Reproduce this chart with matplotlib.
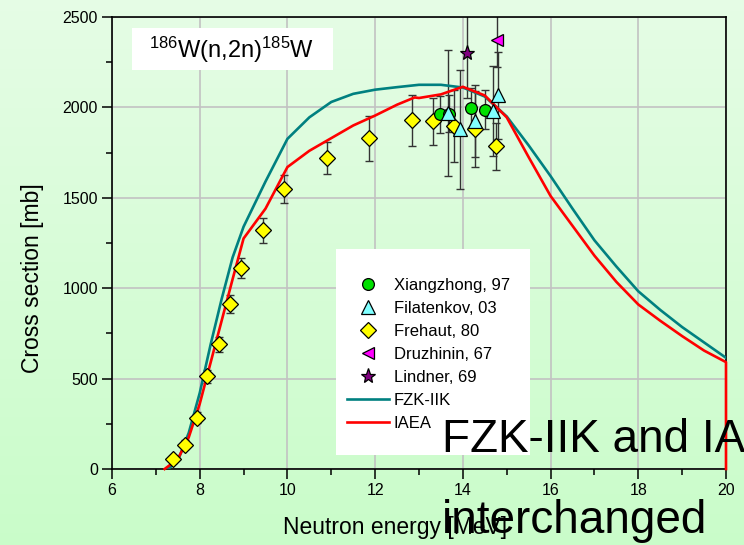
#!/usr/bin/env python3
"""186W(n,2n)185W cross section: experimental points vs FZK-IIK / IAEA evaluations."""

import matplotlib

matplotlib.use("Agg")
import matplotlib.pyplot as plt
import numpy as np
from matplotlib.lines import Line2D
from matplotlib.patches import Rectangle
from matplotlib.ticker import MultipleLocator

# ─── evaluations ─────────────────────────────────────────────────────────────

fzk_energy = [7.28, 7.5, 7.75, 8.0, 8.25, 8.5, 8.75, 9.0, 9.5, 10.0, 10.5, 11.0,
              11.5, 12.0, 12.5, 13.0, 13.5, 14.0, 14.5, 15.0, 15.5, 16.0, 16.5,
              17.0, 17.5, 18.0, 18.5, 19.0, 19.5, 20.0]
fzk_xs = [0, 45, 200, 420, 690, 940, 1170, 1340, 1590, 1826, 1945, 2030,
          2075, 2098, 2112, 2125, 2125, 2110, 2060, 1950, 1790, 1620, 1440,
          1265, 1120, 983, 880, 785, 700, 615]

iaea_energy = [7.2, 7.5, 7.75, 8.0, 8.25, 8.5, 8.75, 9.0, 9.5, 10.0, 10.5, 11.0,
               11.5, 12.0, 12.5, 12.9, 13.0, 13.5, 14.0, 14.5, 15.0, 15.5, 16.0,
               16.5, 17.0, 17.5, 18.0, 18.5, 19.0, 19.5, 20.0, 20.0]
iaea_xs = [0, 55, 175, 360, 590, 820, 1050, 1275, 1440, 1670, 1760, 1830,
           1900, 1955, 2015, 2055, 2052, 2072, 2114, 2066, 1945, 1725, 1510,
           1345, 1180, 1035, 910, 820, 735, 655, 591, 0]

# ─── experimental data ───────────────────────────────────────────────────────

xiang_energy = [13.48, 13.69, 14.19, 14.50]
xiang_xs = [1961, 1966, 1996, 1988]
xiang_err = [100, 100, 110, 110]

filat_energy = [13.65, 13.93, 14.28, 14.69, 14.81]
filat_xs = [1970, 1878, 1924, 1979, 2066]
filat_err = [350, 330, 200, 250, 240]

frehaut_energy = [7.38, 7.67, 7.93, 8.17, 8.45, 8.69, 8.94, 9.44, 9.92, 10.9,
                  11.87, 12.85, 13.33, 13.79, 14.28, 14.76]
frehaut_xs = [53, 135, 283, 513, 689, 915, 1113, 1321, 1550, 1721,
              1828, 1928, 1924, 1896, 1882, 1786]
frehaut_err = [20, 25, 30, 35, 40, 50, 55, 70, 78, 90,
               127, 140, 130, 200, 210, 130]

druzh_energy = [14.78]
druzh_xs = [2372]
druzh_err = [150]

lindner_energy = [14.09]
lindner_xs = [2302]
lindner_err = [250]

W, H, DPI = 744, 545, 100


def _fx(px):
    return px / W


def _fy(py):
    return 1 - py / H


def _background(fig):
    top = np.array([0.90, 0.99, 0.90])
    bot = np.array([0.79, 0.99, 0.79])
    t = np.linspace(0, 1, 256)[:, None]
    grad = (top * (1 - t) + bot * t)[:, None, :]
    bg = fig.add_axes([0, 0, 1, 1], zorder=-10)
    bg.imshow(grad, aspect="auto", extent=[0, 1, 0, 1])
    bg.axis("off")


def main():
    plt.rcParams["font.family"] = ["Liberation Sans", "DejaVu Sans"]
    plt.rcParams["mathtext.fontset"] = "custom"
    plt.rcParams["mathtext.rm"] = "Liberation Sans"
    plt.rcParams["mathtext.it"] = "Liberation Sans:italic"

    fig = plt.figure(figsize=(W / DPI, H / DPI), dpi=DPI)
    _background(fig)

    ax = fig.add_axes([_fx(112), _fy(469), _fx(726 - 112), (469 - 17) / H])
    ax.set_facecolor("none")

    ax.set_xlim(6, 20)
    ax.set_ylim(0, 2500)
    ax.xaxis.set_major_locator(MultipleLocator(2))
    ax.xaxis.set_minor_locator(MultipleLocator(1))
    ax.yaxis.set_major_locator(MultipleLocator(500))
    ax.yaxis.set_minor_locator(MultipleLocator(250))
    ax.tick_params(which="major", direction="out", length=7, width=1.1,
                   labelsize=11.5, top=False, right=False)
    ax.tick_params(which="minor", direction="out", length=4.5, width=1.1,
                   top=False, right=False)
    ax.tick_params(axis="x", pad=3)
    ax.tick_params(axis="y", pad=3)
    for sp in ax.spines.values():
        sp.set_linewidth(1.2)
    ax.grid(True, which="major", color="#c2c2c2", lw=1.2, zorder=0)
    ax.set_axisbelow(True)

    ax.plot(fzk_energy, fzk_xs, color="#008080", lw=1.9, zorder=3, label="FZK-IIK")
    ax.plot(iaea_energy, iaea_xs, color="#ff0000", lw=1.9, zorder=3, label="IAEA",
            clip_on=False)

    ebar = dict(fmt="none", ecolor="#333333", elinewidth=1.0, capsize=3.2,
                capthick=1.0, zorder=2)
    ax.errorbar(frehaut_energy, frehaut_xs, yerr=frehaut_err, **ebar)
    ax.errorbar(filat_energy, filat_xs, yerr=filat_err, **ebar)
    ax.errorbar(xiang_energy, xiang_xs, yerr=xiang_err, **ebar)
    ax.errorbar(druzh_energy, druzh_xs, yerr=druzh_err, **ebar)
    ax.errorbar(lindner_energy, lindner_xs, yerr=lindner_err, **ebar)

    mk = dict(ls="none", mec="black", mew=0.9, zorder=5)
    styles = [
        ("Xiangzhong, 97", "o", "#00e000", 8.5, xiang_energy, xiang_xs),
        ("Filatenkov, 03", "^", "#80ffff", 10, filat_energy, filat_xs),
        ("Frehaut, 80", "D", "#ffff00", 8, frehaut_energy, frehaut_xs),
        ("Druzhinin, 67", "<", "#ff00ff", 9, druzh_energy, druzh_xs),
        ("Lindner, 69", "*", "#800080", 11, lindner_energy, lindner_xs),
    ]
    # draw Frehaut first so the others sit on top, as in the original
    for label, m, fc, ms, xs, ys in [styles[2], styles[0], styles[1], styles[3], styles[4]]:
        ax.plot(xs, ys, marker=m, mfc=fc, ms=ms, **mk)

    ax.set_xlabel("Neutron energy [MeV]", fontsize=16.5)
    ax.set_ylabel("Cross section [mb]", fontsize=16.5)
    ax.xaxis.set_label_coords((395 - 112) / 614, (469 - 516) / 452)
    ax.yaxis.set_label_coords((44 - 112) / 614, (469 - 278) / 452)

    # title box
    fig.patches.append(Rectangle((_fx(132), _fy(70)), _fx(333 - 132), (70 - 28) / H,
                                 transform=fig.transFigure, facecolor="white",
                                 edgecolor="none", zorder=4))
    fig.text(_fx(232), _fy(50), r"$^{186}$W(n,2n)$^{185}$W", fontsize=17,
             ha="center", va="center", zorder=6)

    # legend box
    fig.patches.append(Rectangle((_fx(336), _fy(455)), _fx(530 - 336), (455 - 249) / H,
                                 transform=fig.transFigure, facecolor="white",
                                 edgecolor="none", zorder=4))
    handles = [Line2D([], [], marker=m, mfc=fc, ms=ms, mec="black", mew=0.9, ls="none")
               for _, m, fc, ms, _, _ in styles]
    handles += [Line2D([], [], color="#008080", lw=1.9),
                Line2D([], [], color="#ff0000", lw=1.9)]
    labels = [s[0] for s in styles] + ["FZK-IIK", "IAEA"]
    leg = fig.legend(handles, labels, loc="upper left",
                     bbox_to_anchor=(_fx(347), _fy(278)), frameon=False,
                     fontsize=12, handlelength=2.5, handletextpad=0.3,
                     labelspacing=0.48, borderpad=0, borderaxespad=0)
    leg.set_zorder(7)

    # overlay note
    fig.text(_fx(442), _fy(452), "FZK-IIK and IAEA", fontsize=33, va="baseline",
             ha="left", zorder=10)
    fig.text(_fx(442), _fy(533), "interchanged", fontsize=33, va="baseline",
             ha="left", zorder=10)

    fig.savefig("out.png", dpi=DPI)
    plt.close(fig)


if __name__ == "__main__":
    main()
